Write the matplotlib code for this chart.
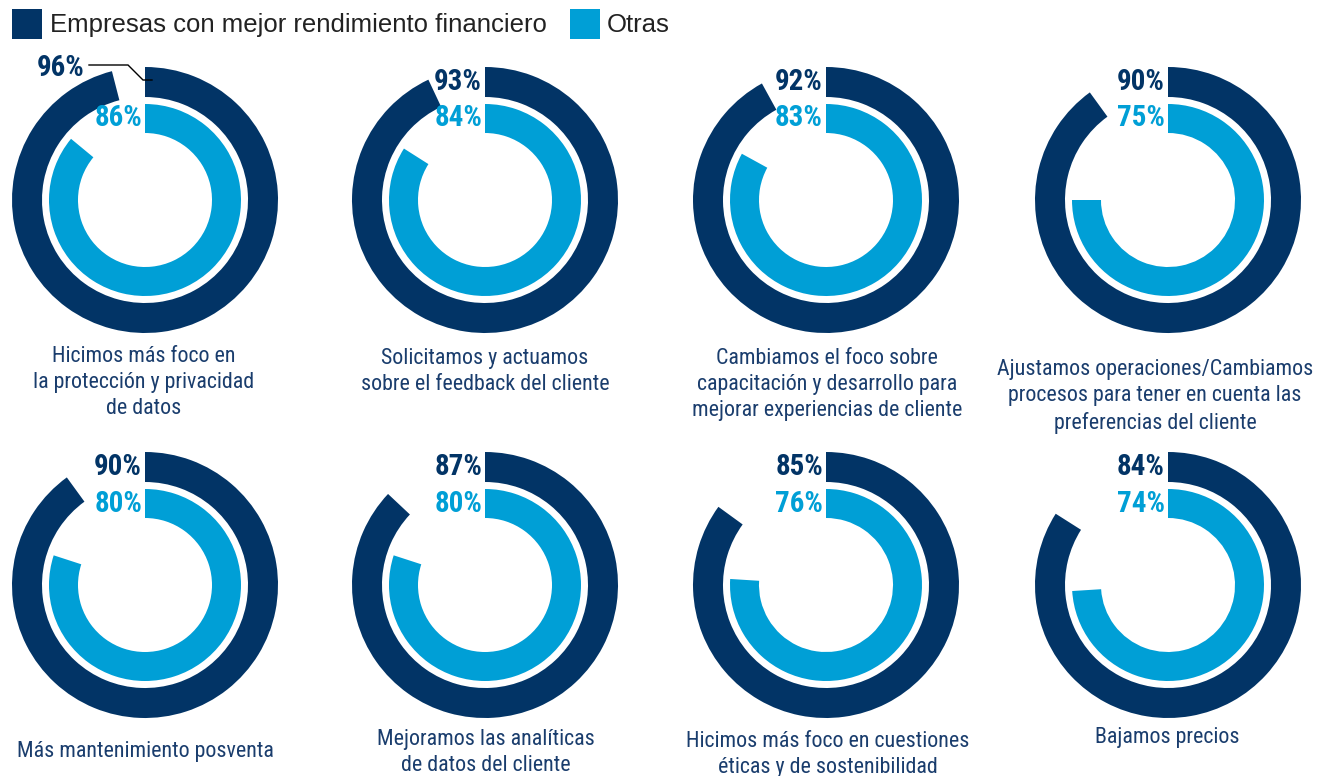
import matplotlib
matplotlib.use('Agg')
import matplotlib.pyplot as plt
from matplotlib import font_manager as fm
from matplotlib.patches import Rectangle

# ---------------- data ----------------
categories = [
    "Hicimos más foco en\nla protección y privacidad\nde datos",
    "Solicitamos y actuamos\nsobre el feedback del cliente",
    "Cambiamos el foco sobre\ncapacitación y desarrollo para\nmejorar experiencias de cliente",
    "Ajustamos operaciones/Cambiamos\nprocesos para tener en cuenta las\npreferencias del cliente",
    "Más mantenimiento posventa",
    "Mejoramos las analíticas\nde datos del cliente",
    "Hicimos más foco en cuestiones\néticas y de sostenibilidad",
    "Bajamos precios",
]
top_values = [96, 93, 92, 90, 90, 87, 85, 84]
other_values = [86, 84, 83, 75, 80, 80, 76, 74]
legend_labels = ["Empresas con mejor rendimiento financiero", "Otras"]

# ---------------- style ----------------
NAVY = '#023466'
BLUE = '#009fd6'
TEXT = '#1a3d6d'
W, H = 1327, 776

fonts = fm.fontManager.ttflist
names = {f.name for f in fonts}
stretch = 'normal'
if 'Liberation Sans Narrow' in names:
    narrow = 'Liberation Sans Narrow'
elif 'Roboto Condensed' in names:
    narrow = 'Roboto Condensed'
elif any(f.name == 'DejaVu Sans' and f.stretch == 'condensed' for f in fonts):
    narrow = 'DejaVu Sans'
    stretch = 'condensed'
elif 'Roboto' in names:
    narrow = 'Roboto'
else:
    narrow = 'DejaVu Sans'
regular = 'Liberation Sans' if 'Liberation Sans' in names else 'DejaVu Sans'

fig = plt.figure(figsize=(W / 100, H / 100), dpi=100)
ax = fig.add_axes([0, 0, 1, 1])
renderer = fig.canvas.get_renderer()


def fit_size(sample, target_px, **kw):
    t = fig.text(0, 0, sample, fontsize=20, **kw)
    wpx = t.get_window_extent(renderer).width
    t.remove()
    return 20 * target_px / wpx


cat_fs = fit_size("Hicimos más foco en", 184, family=narrow, stretch=stretch)
pct_fs = fit_size("96%", 48, family=narrow, stretch=stretch, fontweight='bold')
leg_fs = fit_size(legend_labels[0], 495, family=regular)

col_x = [145, 485, 826, 1168]
row_y = [200, 585]
R_OUT, W_OUT = 133, 30
R_IN, W_IN = 96, 29

label_x = [144, 485, 827, 1155, 145, 486, 828, 1167]
label_y = [355, 357, 357, 368, 750, 738, 740, 736]

for i, (cat, tv, ov) in enumerate(zip(categories, top_values, other_values)):
    cx = col_x[i % 4]
    cy = H - row_y[i // 4]
    ax.pie([tv, 100 - tv], radius=R_OUT, center=(cx, cy), startangle=90,
           counterclock=False, colors=[NAVY, 'none'],
           wedgeprops=dict(width=W_OUT, linewidth=0))
    ax.pie([ov, 100 - ov], radius=R_IN, center=(cx, cy), startangle=90,
           counterclock=False, colors=[BLUE, 'none'],
           wedgeprops=dict(width=W_IN, linewidth=0))
    if i == 0:
        ax.text(85, H - 68, f"{tv}%", ha='right', va='center', color=NAVY,
                fontsize=pct_fs, fontweight='bold', family=narrow, stretch=stretch)
        ax.plot([89, 128, 143, 152], [H - 65, H - 65, H - 80, H - 80],
                color='black', lw=1.0, solid_joinstyle='miter')
    else:
        ax.text(cx - 3, cy + R_OUT - W_OUT / 2, f"{tv}%", ha='right', va='center',
                color=NAVY, fontsize=pct_fs, fontweight='bold', family=narrow,
                stretch=stretch)
    ax.text(cx - 3, cy + R_IN - W_IN / 2, f"{ov}%", ha='right', va='center',
            color=BLUE, fontsize=pct_fs, fontweight='bold', family=narrow,
            stretch=stretch)
    ax.text(label_x[i], H - label_y[i] + 9, cat, ha='center', va='top',
            multialignment='center', color=TEXT, fontsize=cat_fs, family=narrow,
            stretch=stretch, linespacing=1.32)

# legend
ax.add_patch(Rectangle((12, H - 39), 30, 30, color=NAVY, lw=0))
ax.text(50, H - 25, legend_labels[0], ha='left', va='center', color='#222222',
        fontsize=leg_fs, family=regular)
ax.add_patch(Rectangle((570, H - 39), 30, 30, color=BLUE, lw=0))
ax.text(607, H - 25, legend_labels[1], ha='left', va='center', color='#222222',
        fontsize=leg_fs, family=regular)

ax.set_xlim(0, W)
ax.set_ylim(0, H)
ax.set_aspect('auto')
ax.axis('off')
fig.savefig('out.png', dpi=100, facecolor='white')
